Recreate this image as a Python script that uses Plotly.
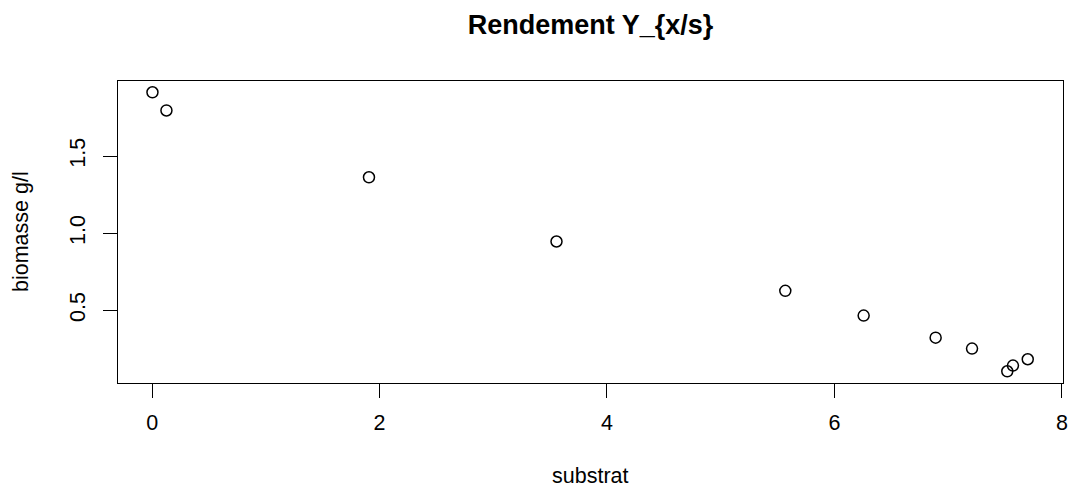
import plotly.graph_objects as go

# Substrate concentration vs biomass measurements
substrat = [0.003, 0.126, 1.907, 3.556, 5.568, 6.257, 6.89, 7.21, 7.52, 7.57, 7.70]
biomasse = [1.913, 1.795, 1.362, 0.946, 0.626, 0.466, 0.323, 0.252, 0.105, 0.142, 0.183]

x_ticks = [0, 2, 4, 6, 8]
y_ticks = [0.5, 1.0, 1.5]
y_tick_text = ["0.5", "1.0", "1.5"]

FONT = "Liberation Sans, Arial, Helvetica, sans-serif"

fig = go.Figure()
fig.add_trace(go.Scatter(
    x=substrat, y=biomasse, mode="markers",
    marker=dict(symbol="circle-open", size=11, color="black", line=dict(width=1.5, color="black")),
    showlegend=False,
))

axis_common = dict(
    showgrid=False, zeroline=False, showline=True, mirror=True, automargin=False,
    linecolor="black", linewidth=1.3, ticks="outside", ticklen=14,
    tickwidth=1.3, tickcolor="black",
    tickfont=dict(family=FONT, size=21.5, color="black"),
)

fig.update_layout(
    width=1068, height=490,
    margin=dict(l=118, r=5, t=81, b=107, autoexpand=False),
    paper_bgcolor="white", plot_bgcolor="white",
    font=dict(family=FONT, color="black"),
    title=dict(
        text="<b>Rendement Y_{x/s}</b>",
        x=0.5, xref="paper", xanchor="center",
        y=1 - 25 / 490, yref="container", yanchor="middle",
        font=dict(family=FONT, size=27, color="black"),
    ),
    xaxis=dict(range=[-0.30, 8.01], tickvals=x_ticks, ticklabelstandoff=6, **axis_common),
    yaxis=dict(range=[0.029, 1.986], tickvals=y_ticks, ticktext=y_tick_text,
               tickangle=-90, ticklabelstandoff=9, **axis_common),
    annotations=[
        dict(text="substrat", xref="paper", yref="paper", x=0.5, y=0,
             xanchor="center", yanchor="middle", yshift=-93, showarrow=False,
             font=dict(family=FONT, size=21.5, color="black")),
        dict(text="biomasse g/l", xref="paper", yref="paper", x=0, y=0.5,
             xanchor="center", yanchor="middle", xshift=-97, textangle=-90,
             showarrow=False, font=dict(family=FONT, size=21.5, color="black")),
    ],
)

fig.write_html("out.html")
